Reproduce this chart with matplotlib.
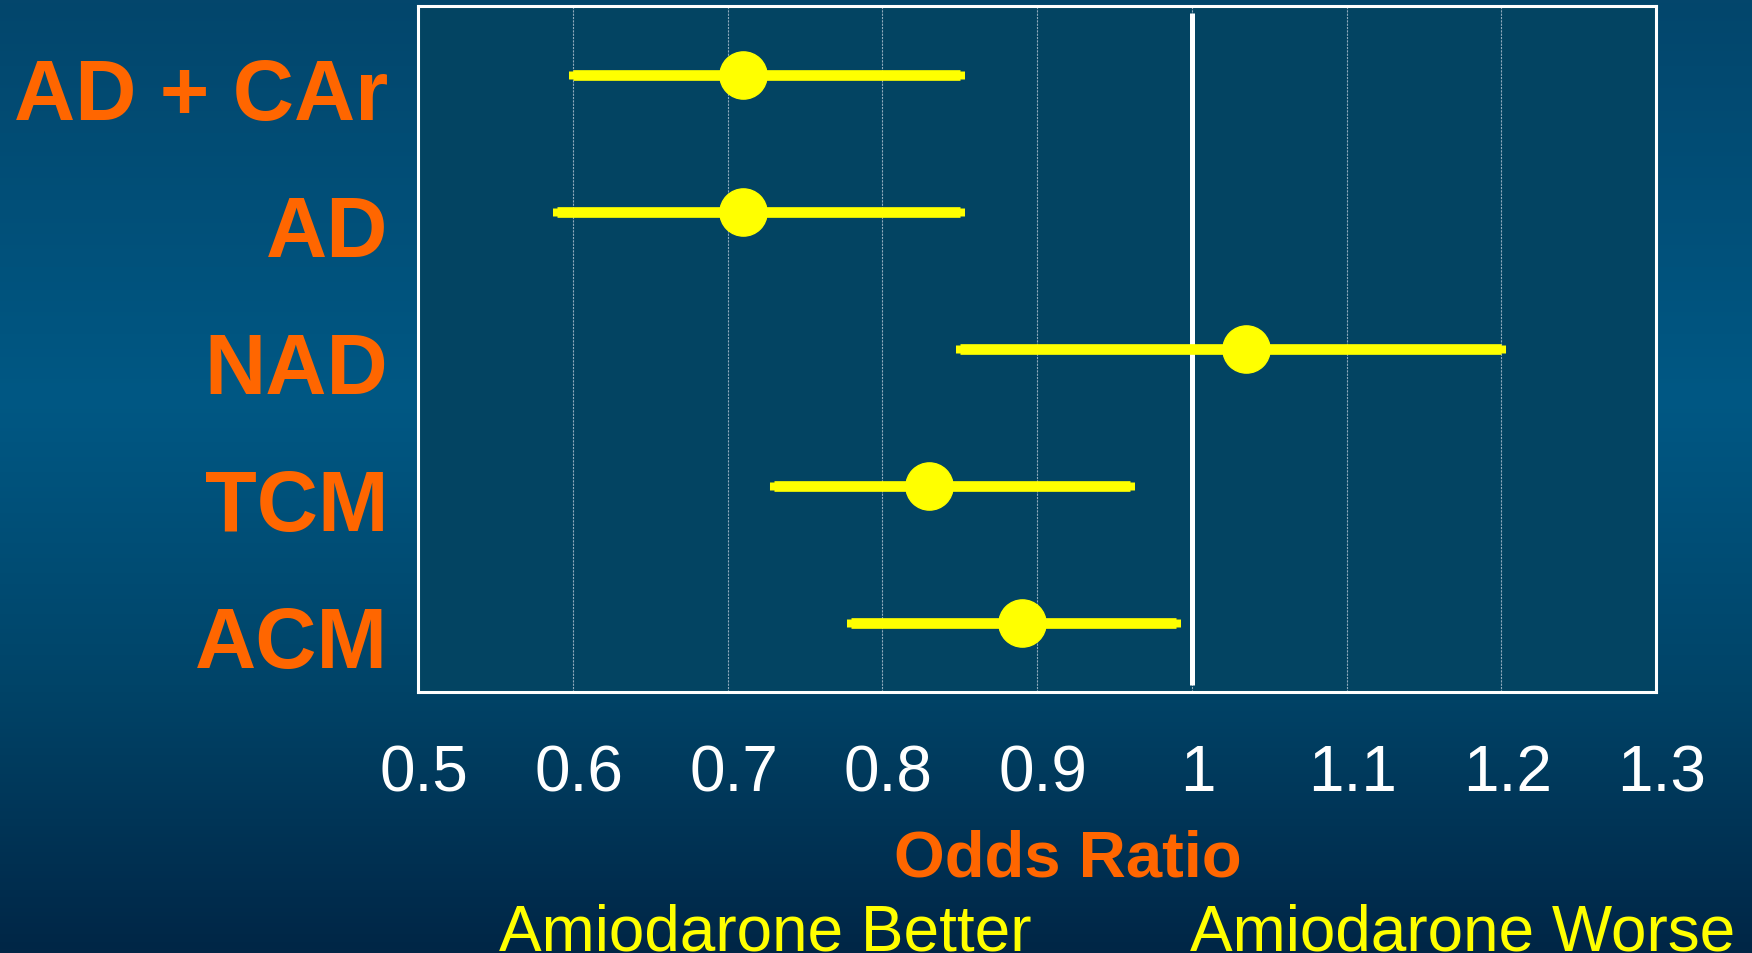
import numpy as np
import matplotlib
matplotlib.use('Agg')
import matplotlib.pyplot as plt
from matplotlib.colors import LinearSegmentedColormap
from matplotlib.transforms import blended_transform_factory, ScaledTranslation

plt.rcParams['font.family'] = ['Liberation Sans', 'DejaVu Sans']

# data
labels = ['AD + CAr', 'AD', 'NAD', 'TCM', 'ACM']
odds = [0.71, 0.71, 1.035, 0.83, 0.89]
lower = [0.60, 0.59, 0.85, 0.73, 0.78]
upper = [0.85, 0.85, 1.20, 0.96, 0.99]
xticks = [0.5, 0.6, 0.7, 0.8, 0.9, 1.0, 1.1, 1.2, 1.3]
xticklabels = ['0.5', '0.6', '0.7', '0.8', '0.9', '1', '1.1', '1.2', '1.3']

ORANGE = '#ff6600'
YELLOW = '#ffff00'

fig = plt.figure(figsize=(17.52, 9.54), dpi=100)

# slide background gradient
bg = fig.add_axes([0, 0, 1, 1], zorder=-10)
cmap = LinearSegmentedColormap.from_list(
    'slide', [(0.0, '#03466c'), (0.42, '#005884'), (0.72, '#004468'), (1.0, '#012646')])
bg.imshow(np.linspace(0, 1, 256).reshape(-1, 1), aspect='auto', cmap=cmap,
          extent=[0, 1, 0, 1])
bg.set_axis_off()

ax = fig.add_axes([418 / 1752, 1 - 693 / 954, 1238 / 1752, 686 / 954])
ax.set_facecolor('#034462')

ypos = np.arange(len(labels), 0, -1)
o = np.array(odds)
xerr = [o - np.array(lower), np.array(upper) - o]

ax.vlines(1.0, 0.55, 5.45, color='white', lw=3.6, zorder=2)
ax.errorbar(o, ypos, xerr=xerr, fmt='o', color=YELLOW, ms=34,
            elinewidth=7.7, capsize=2.6, capthick=6.5, zorder=3)

ax.set_xlim(0.5, 1.3)
ax.set_ylim(0.5, 5.5)
ax.set_yticks([])
ax.set_xticks(xticks)
ax.set_xticklabels(xticklabels)
ax.tick_params(axis='x', length=0, pad=37, labelsize=46, labelcolor='white')
shift = ScaledTranslation(0.06, 0, fig.dpi_scale_trans)
for t in ax.get_xticklabels():
    t.set_transform(t.get_transform() + shift)
ax.grid(axis='x', color='#8fa9bb', lw=0.8, ls=(0, (2, 1)), zorder=1)
for sp in ax.spines.values():
    sp.set_color('white')
    sp.set_linewidth(2.2)

# row labels, right aligned left of the box
tr = blended_transform_factory(fig.transFigure, ax.transData)
for y, lab in zip(ypos, labels):
    ax.text(388 / 1752, y - 0.32, lab, transform=tr, ha='right', va='baseline',
            fontsize=61, fontweight='bold', color=ORANGE)

fig.text(1068 / 1752, 1 - 877 / 954, 'Odds Ratio', ha='center', va='baseline',
         fontsize=47, fontweight='bold', color=ORANGE)
fig.text(499 / 1752, 1 - 951 / 954, 'Amiodarone Better', ha='left', va='baseline',
         fontsize=46, color=YELLOW)
fig.text(1190 / 1752, 1 - 951 / 954, 'Amiodarone Worse', ha='left', va='baseline',
         fontsize=46, color=YELLOW)

plt.savefig('out.png', dpi=100)
plt.close()
